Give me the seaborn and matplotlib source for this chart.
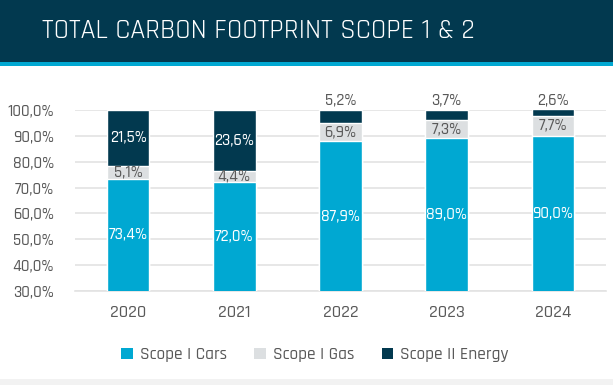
import matplotlib
matplotlib.use("Agg")
import matplotlib.pyplot as plt
import seaborn as sns
import pandas as pd
from matplotlib.patches import Rectangle

# chart data (percent shares per year)
years = ["2020", "2021", "2022", "2023", "2024"]
cars = [73.4, 72.0, 87.9, 89.0, 90.0]
gas = [5.1, 4.4, 6.9, 7.3, 7.7]
energy = [21.5, 23.6, 5.2, 3.7, 2.6]
series_names = ["Scope I Cars", "Scope I Gas", "Scope II Energy"]
yticks = [30, 40, 50, 60, 70, 80, 90, 100]

c_cars = "#00a8d2"
c_gas = "#dcdfe1"
c_energy = "#02394f"
grey_txt = "#595959"

sns.set_style("white")
plt.rcParams["font.family"] = ["Rajdhani", "DejaVu Sans"]
plt.rcParams["font.weight"] = "medium"

df = pd.DataFrame({"year": years, "cars": cars, "gas": gas, "energy": energy})
df["cars_gas"] = df["cars"] + df["gas"]
df["total"] = df["cars_gas"] + df["energy"]

fig = plt.figure(figsize=(6.13, 3.85), dpi=100)
W, H = 613, 385

# title banner
fig.patches.append(Rectangle((0, 1 - 62 / H), 1, 62 / H, transform=fig.transFigure,
                             facecolor=c_energy, edgecolor="none", zorder=0))
fig.patches.append(Rectangle((0, 1 - 66 / H), 1, 4 / H, transform=fig.transFigure,
                             facecolor="#00a8d2", edgecolor="none", zorder=0))
fig.patches.append(Rectangle((0, 0), 1, 6 / H, transform=fig.transFigure,
                             facecolor="#f2f2f2", edgecolor="none", zorder=0))
fig.text(258 / W, 1 - 31 / H, "TOTAL CARBON FOOTPRINT SCOPE 1 & 2", color="white",
         fontsize=20, fontweight="normal", ha="center", va="center")

ax = fig.add_axes([75 / W, 1 - 291 / H, 531 / W, 181 / H])

# stacked bars drawn back to front
sns.barplot(data=df, x="year", y="total", color=c_energy, width=0.4, saturation=1, ax=ax, zorder=2)
sns.barplot(data=df, x="year", y="cars_gas", color=c_gas, width=0.4, saturation=1, ax=ax, zorder=3)
sns.barplot(data=df, x="year", y="cars", color=c_cars, width=0.4, saturation=1, ax=ax, zorder=4)

ax.set_ylim(30, 100)
ax.set_xlim(-0.5, 4.5)
ax.set_yticks(yticks)
ax.set_yticklabels([f"{v:.1f}%".replace(".", ",") for v in yticks])
ax.grid(axis="y", color="#e3e3e3", linewidth=1.2, zorder=0)
ax.set_axisbelow(True)
sns.despine(ax=ax, left=True, top=True, right=True, bottom=False)
ax.spines["bottom"].set_color("#e3e3e3")
ax.spines["bottom"].set_linewidth(1.2)
ax.tick_params(axis="y", length=0, pad=15, labelsize=12, labelcolor=grey_txt)
ax.tick_params(axis="x", length=0, pad=10, labelsize=13, labelcolor=grey_txt)
ax.set_xlabel("")
ax.set_ylabel("")

def fmt(v):
    return f"{v:.1f}%".replace(".", ",")

for i in range(len(years)):
    lo = 30
    ax.text(i, (lo + cars[i]) / 2, fmt(cars[i]), ha="center", va="center",
            color="white", fontsize=12, zorder=6)
    ax.text(i, cars[i] + gas[i] / 2, fmt(gas[i]), ha="center", va="center",
            color=grey_txt, fontsize=12, zorder=6)
    if energy[i] > 10:
        ax.text(i, cars[i] + gas[i] + energy[i] / 2, fmt(energy[i]), ha="center",
                va="center", color="white", fontsize=12, zorder=6)
    else:
        ax.text(i, 100.6, fmt(energy[i]), ha="center", va="bottom",
                color=grey_txt, fontsize=12, zorder=6, clip_on=False)

handles = [Rectangle((0, 0), 1, 1, facecolor=c, edgecolor="none")
           for c in (c_cars, c_gas, c_energy)]
fig.legend(handles, series_names, loc="center", bbox_to_anchor=(315 / W, 1 - 355 / H),
           ncol=3, frameon=False, fontsize=12.5, labelcolor=grey_txt,
           handlelength=0.65, handleheight=0.65, handletextpad=0.4, columnspacing=1.6)

fig.savefig("out.png", dpi=100)
